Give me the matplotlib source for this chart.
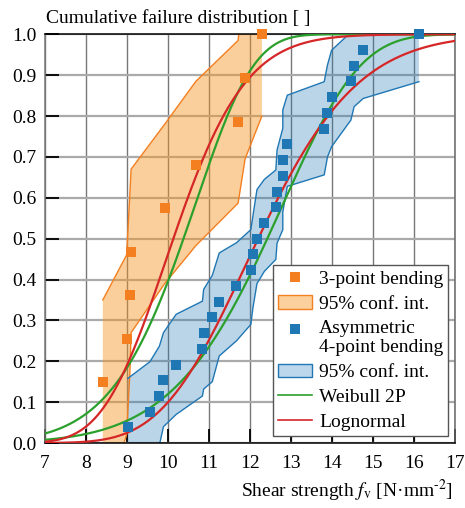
import math
import numpy as np
import matplotlib.pyplot as plt
from matplotlib.lines import Line2D
from matplotlib.patches import Patch
from matplotlib.ticker import FormatStrFormatter

plt.rcParams['font.family'] = ['Liberation Serif', 'DejaVu Serif']
plt.rcParams['mathtext.fontset'] = 'stix'
plt.rcParams['font.size'] = 14

# 3-point bending: test results and 95% confidence band
x3 = [8.41, 8.99, 9.07, 9.10, 9.92, 10.68, 11.71, 11.88, 12.29]
y3 = [0.150, 0.255, 0.361, 0.467, 0.574, 0.680, 0.785, 0.893, 1.0]
lo3 = [-0.16, 0.02, 0.17, 0.27, 0.39, 0.483, 0.587, 0.695, 0.80]
up3 = [0.35, 0.46, 0.61, 0.67, 0.78, 0.885, 0.985, 1.15, 1.20]

# asymmetric 4-point bending
x4 = [9.02, 9.56, 9.79, 9.89, 10.20, 10.84, 10.87, 11.08, 11.25, 11.67,
      12.02, 12.07, 12.17, 12.35, 12.63, 12.66, 12.80, 12.80, 12.91, 13.81,
      13.89, 13.99, 14.46, 14.54, 14.76, 16.12]
y4 = [0.038, 0.077, 0.115, 0.154, 0.192, 0.231, 0.269, 0.308, 0.346, 0.385,
      0.423, 0.462, 0.500, 0.538, 0.577, 0.615, 0.654, 0.692, 0.731, 0.769,
      0.808, 0.846, 0.885, 0.923, 0.962, 1.0]
lo4 = [-0.25, -0.08, -0.005, 0.04, 0.07, 0.115, 0.132, 0.15, 0.213, 0.25,
       0.29, 0.33, 0.39, 0.42, 0.449, 0.489, 0.522, 0.565, 0.628, 0.656,
       0.70, 0.725, 0.79, 0.823, 0.843, 0.884]
up4 = [0.158, 0.199, 0.237, 0.27, 0.315, 0.347, 0.376, 0.41, 0.465, 0.49,
       0.522, 0.555, 0.62, 0.645, 0.668, 0.717, 0.77, 0.815, 0.851, 0.884,
       0.925, 0.961, 1.005, 1.04, 1.08, 1.20]

# fitted distributions (shape, scale) / (mu, sigma of ln x)
wb3 = (8.6, 10.83)
ln3 = (2.3155, 0.135)
wb4 = (7.8, 13.02)
ln4 = (2.5014, 0.155)

orange = '#f47f20'
orange_fill = '#f49621'
blue = '#1f77b4'
green = '#2ca02c'
red = '#d62728'


def weibull_cdf(x, k, lam):
    return 1 - np.exp(-(x / lam) ** k)


def lognorm_cdf(x, mu, s):
    z = (np.log(x) - mu) / (s * math.sqrt(2))
    return 0.5 * (1 + np.array([math.erf(v) for v in z]))


xs = np.linspace(7, 17, 500)

fig = plt.figure(figsize=(4.65, 5.08), dpi=100)
ax = fig.add_axes([45 / 465, 65 / 508, 410 / 465, 408.7 / 508])

ax.fill_between(x3, lo3, up3, color=orange_fill, alpha=0.45, lw=0, zorder=1)
ax.plot(x3, lo3, color=orange, lw=1, zorder=1.5)
ax.plot(x3, up3, color=orange, lw=1, zorder=1.5)
ax.fill_between(x4, lo4, up4, color=blue, alpha=0.3, lw=0, zorder=1)
ax.plot(x4, lo4, color=blue, lw=1, zorder=1.5)
ax.plot(x4, up4, color=blue, lw=1, zorder=1.5)

ax.plot(xs, weibull_cdf(xs, *wb3), color=green, lw=1.6, zorder=3)
ax.plot(xs, weibull_cdf(xs, *wb4), color=green, lw=1.6, zorder=3)
ax.plot(xs, lognorm_cdf(xs, *ln3), color=red, lw=1.6, zorder=3)
ax.plot(xs, lognorm_cdf(xs, *ln4), color=red, lw=1.6, zorder=3)

ax.plot(x3, y3, ls='none', marker='s', ms=6.8, mew=0, color=orange, zorder=4, clip_on=False)
ax.plot(x4, y4, ls='none', marker='s', ms=6.8, mew=0, color=blue, zorder=4, clip_on=False)

ax.set_xlim(7, 17)
ax.set_ylim(0, 1)
ax.set_xticks(range(7, 18))
ax.set_yticks(np.linspace(0, 1, 11))
ax.yaxis.set_major_formatter(FormatStrFormatter('%.1f'))
ax.set_axisbelow(True)
ax.xaxis.grid(True, color='#777777', lw=1.0)
ax.yaxis.grid(True, color='#aaaaaa', lw=1.6)
ax.tick_params(direction='in', length=10, width=1.3, color='k')
ax.tick_params(axis='x', pad=9)
ax.tick_params(axis='y', pad=6)
ax.spines['left'].set_color('#777777')
ax.spines['right'].set_color('#666666')
ax.spines['bottom'].set_color('k')
ax.spines['top'].set_color('k')
for s in ax.spines.values():
    s.set_linewidth(1.1)

handles = [
    Line2D([], [], ls='none', marker='s', ms=6.8, mew=0, color=orange),
    Patch(facecolor='#fbd09c', edgecolor=orange, lw=1),
    Line2D([], [], ls='none', marker='s', ms=6.8, mew=0, color=blue),
    Patch(facecolor='#bcd6ec', edgecolor=blue, lw=1),
    Line2D([], [], color=green, lw=1.2),
    Line2D([], [], color=red, lw=1.2),
]
labels = ['3-point bending', '95% conf. int.', 'Asymmetric\n4-point bending',
          '95% conf. int.', 'Weibull 2P', 'Lognormal']
leg = ax.legend(handles, labels, loc='lower right', bbox_to_anchor=(0.984, 0.017),
                borderaxespad=0, fancybox=False, framealpha=1, edgecolor='#555555',
                handlelength=1.75, handletextpad=0.34, labelspacing=0.37,
                borderpad=0.27, numpoints=1)
leg.get_frame().set_linewidth(1.0)
# put the blue marker next to the first line of its two-line label
mk = leg.legend_handles[2]
mk.set_ydata(np.asarray(mk.get_ydata()) + 6.1)

fig.text(46 / 465, 1 - 22.5 / 508, 'Cumulative failure distribution [ ]',
         ha='left', va='baseline')
fig.text(453 / 465, 1 - 497 / 508,
         'Shear strength $f_\\mathrm{v}$ [N·mm$^{\\text{-}2}$]',
         ha='right', va='baseline')

fig.savefig('out.png', dpi=100)
